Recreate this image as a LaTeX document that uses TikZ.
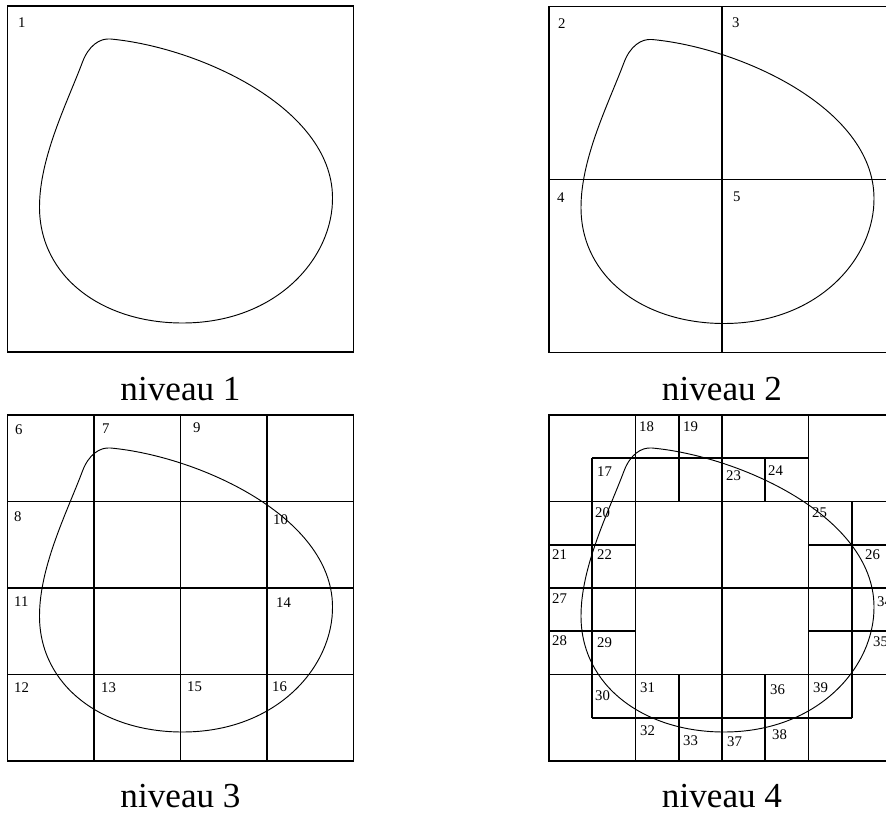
\documentclass[tikz,border=0pt]{standalone}
\usepackage{fontspec}
\setmainfont{Liberation Serif}
\usepackage{tikz}
\usetikzlibrary{calc}
\tikzset{
  contour/.pic={
    \draw[line width=0.8pt] (103,33) .. controls (190,41) and (324,101) .. (325,191)
      .. controls (326,251) and (270,317) .. (175,317)
      .. controls (95,317) and (32,271) .. (32,201)
      .. controls (32,151) and (60,96) .. (75,56)
      .. controls (81,40) and (92,32) .. (103,33) -- cycle;
  }
}
\tikzset{
  cadre/.style={
    line width=1.3pt,
  },
  numero/.style={
    anchor=north west,
    inner sep=0pt,
    font=\fontsize{12.6}{14}\selectfont
  },
  niveau/.style={
    anchor=base,
    inner sep=0pt,
    font=\fontsize{30}{34}\selectfont
  }
}

\begin{document}
\begin{tikzpicture}[x=0.03cm, y=-0.03cm]
    \useasboundingbox (0,0) rectangle (886,814);
    % niveau 1
    \begin{scope}[shift={(7.5,6)}]
        \pic {contour};
        \draw[cadre] (0,0) rectangle (346,346);
    \end{scope}
    % niveau 2
    \begin{scope}[shift={(549,6.5)}]
        \pic {contour};
        \draw[cadre] (0,0) rectangle (346,346);
        \draw[cadre] (173,0)--(173,346);
        \draw[cadre] (0,173)--(346,173);
    \end{scope}
    % niveau 3
    \begin{scope}[shift={(7.5,415)}]
        \pic {contour};
        \draw[cadre] (0,0) rectangle (346,346);
        \foreach \k in {1,2,3}{
            \draw[cadre] (\k*86.5,0)--(\k*86.5,346);
            \draw[cadre] (0,\k*86.5)--(346,\k*86.5);
        }
    \end{scope}
    % niveau 4
    \begin{scope}[shift={(549,415)}]
        \pic {contour};
        \draw[cadre] (0,0) rectangle (346,346);
        \foreach \k in {2,4,6}{
            \draw[cadre] (\k*43.25,0)--(\k*43.25,346);
            \draw[cadre] (0,\k*43.25)--(346,\k*43.25);
        }
        \foreach \k/\a/\b in {1/1/6, 3/0/2, 3/6/8, 5/0/2, 5/6/8, 7/1/7}
            \draw[cadre] (\a*43.25,\k*43.25)--(\b*43.25,\k*43.25);
        \foreach \k/\a/\b in {1/1/7, 3/0/2, 3/6/8, 5/1/2, 5/6/8, 7/2/7}
            \draw[cadre] (\k*43.25,\a*43.25)--(\k*43.25,\b*43.25);
    \end{scope}
    % numeros
    \foreach \n/\x/\y in {1/18/18, 2/558/18, 3/732/17, 4/557/193, 5/733/192,
        6/15/424, 7/102/424, 9/193/422, 8/14/511, 10/273/514, 11/14/597,
        14/276/598, 12/14/682, 13/101/682, 15/187/682, 16/272/681,
        18/639/421, 19/683/421, 17/597/467, 23/726/470, 24/768/465,
        20/595/507, 25/812/507, 21/552/549, 22/597/549, 26/865/549,
        27/552/593, 34/877/596, 28/552/635, 29/597/637, 35/873/636,
        30/595/690, 31/640/682, 36/770/684, 39/813/682,
        32/640/725, 33/683/735, 37/727/736, 38/772/729}
        \node[numero] (n\n) at (\x,\y) {\n};
    % titres
    \node[niveau] (niv1) at (180.5,400) {niveau 1};
    \node[niveau] (niv2) at (722,400) {niveau 2};
    \node[niveau] (niv3) at (180.5,807) {niveau 3};
    \node[niveau] (niv4) at (722,807) {niveau 4};
\end{tikzpicture}
\end{document}
